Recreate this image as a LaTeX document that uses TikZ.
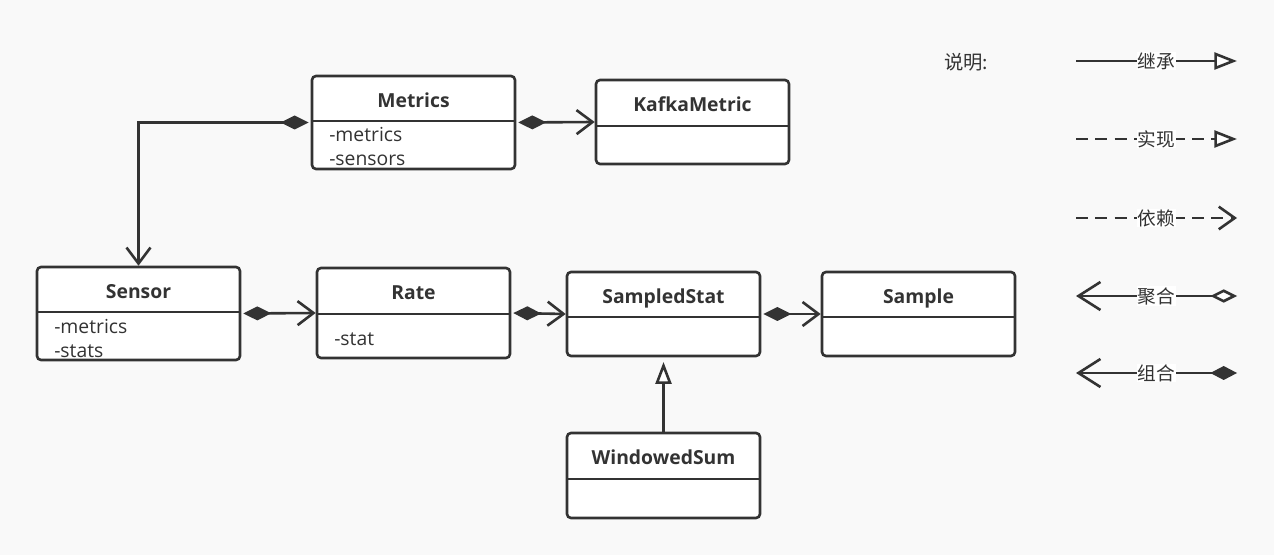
\documentclass[tikz,border=0pt]{standalone}
\usepackage{fontspec}
\setmainfont{Open Sans}
\newfontfamily\cjk{Noto Sans CJK SC}
\usetikzlibrary{arrows.meta}
\definecolor{lc}{HTML}{333333}
\definecolor{bg}{HTML}{F9F9F9}
\tikzset{
  cls/.style={draw=lc, fill=white, line width=1.95pt, rounded corners=3pt, inner sep=0pt},
  divider/.style={draw=lc, line width=1.95pt},
  ttl/.style={font=\fontsize{14.5}{17}\selectfont\bfseries, text=lc, inner sep=0pt, text height=0.71em, text depth=0pt},
  attr/.style={font=\fontsize{14.5}{17}\selectfont, text=lc, anchor=base west, inner sep=0pt},
  conn/.style={draw=lc, line width=1.95pt},
  comp/.style={conn, shorten <=1.5pt, {Diamond[length=21pt, width=10.5pt]}-{Straight Barb[length=12pt, width=18pt]}},
  inh/.style={conn, shorten >=3.5pt, -{Triangle[open, fill=white, length=16.5pt, width=12pt]}},
  lbl/.style={font=\cjk\fontsize{14}{16}\selectfont, text=lc, fill=white, inner sep=0.6pt},
  dsh/.style={dash pattern=on 9pt off 5.5pt},
  lginh/.style={conn, -{Triangle[open, fill=white, length=17pt, width=12.75pt]}},
  lgdep/.style={conn, -{Straight Barb[length=12pt, width=17pt]}},
  lgagg/.style={conn, {Straight Barb[length=16.5pt, width=21pt]}-{Diamond[open, fill=white, length=20pt, width=10pt]}},
  lgcmp/.style={conn, {Straight Barb[length=16.5pt, width=21pt]}-{Diamond[length=20pt, width=10.5pt]}},
}
\newcommand\UMLbox[7]{%
  \node[cls, minimum width={(#4-#2)*0.75pt}, minimum height={(#5-#3)*0.75pt}] (#1) at ({(#2+#4)/2},{(#3+#5)/2}) {};
  \draw[divider] (#2,#6) -- (#4,#6);
  \node[ttl] (#1-title) at ({(#2+#4)/2},{(#3+#6)/2+4}) {#7};
}
\begin{document}
\begin{tikzpicture}[x=0.75pt, y=-0.75pt]
\fill[bg] (0,0) rectangle (1274,555);
\useasboundingbox (0,0) rectangle (1274,555);

% classes
\UMLbox{metrics}{312}{76}{515}{169}{121}{Metrics}
\UMLbox{kafka}{596}{80}{789}{164}{126}{KafkaMetric}
\UMLbox{sensor}{37}{267}{240}{360}{312}{Sensor}
\UMLbox{rate}{317}{268}{510}{358}{314}{Rate}
\UMLbox{sampled}{567}{272}{760}{356}{317}{SampledStat}
\UMLbox{sample}{822}{272}{1015}{356}{317}{Sample}
\UMLbox{windowed}{567}{433}{760}{518}{479}{WindowedSum}

% attributes
\node[attr] (m-a1) at (329,141.5) {-metrics};
\node[attr] (m-a2) at (329,165.5) {-sensors};
\node[attr] (s-a1) at (54,334) {-metrics};
\node[attr] (s-a2) at (54,357.5) {-stats};
\node[attr] (r-a1) at (334,346) {-stat};

% connectors
\draw[comp] (metrics.west) -| (sensor.north);
\draw[comp] (metrics.east) -- (kafka.west);
\draw[comp] (sensor.east) -- (rate.west);
\draw[comp] (rate.east) -- (sampled.west);
\draw[comp] (sampled.east) -- (sample.west);
\draw[inh] (windowed.north) -- (sampled.south);

% legend
\node[font=\cjk\fontsize{14.5}{17}\selectfont, text=lc, anchor=west, inner sep=0pt] (legend) at (944,62) {说明:};
\coordinate (l1a) at (1076,61);  \coordinate (l1b) at (1237,61);
\coordinate (l2a) at (1076,139); \coordinate (l2b) at (1237,139);
\coordinate (l3a) at (1076,218); \coordinate (l3b) at (1237,218);
\coordinate (l4a) at (1076,296); \coordinate (l4b) at (1237,296);
\coordinate (l5a) at (1076,373); \coordinate (l5b) at (1237,373);
\draw[lginh] (l1a) -- node[lbl] {继承} (l1b);
\draw[lginh, dsh] (l2a) -- node[lbl] {实现} (l2b);
\draw[lgdep, dsh] (l3a) -- node[lbl] {依赖} (l3b);
\draw[lgagg] (l4a) -- node[lbl] {聚合} (l4b);
\draw[lgcmp] (l5a) -- node[lbl] {组合} (l5b);
\end{tikzpicture}
\end{document}
